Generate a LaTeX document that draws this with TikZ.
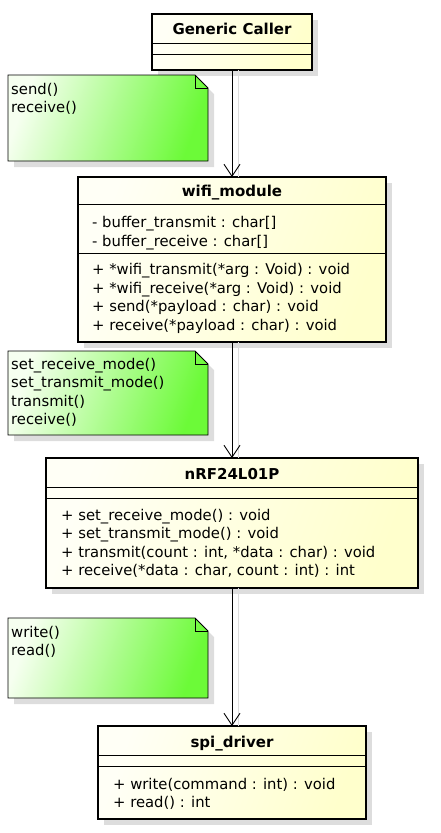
\documentclass[tikz,border=0pt]{standalone}
\usepackage{fontspec}
\setmainfont{DejaVu Sans}
\usetikzlibrary{arrows.meta, positioning, calc, shadows}
\definecolor{myclasslight}{HTML}{FFFFF6}
\definecolor{myclassdark}{HTML}{FFFFCC}
\definecolor{mynotelight}{HTML}{F6FFF0}
\definecolor{mynotedark}{HTML}{6CFA38}
\definecolor{myshadow}{HTML}{DDDDDD}

\tikzset{
  classbox/.style={draw=black, line width=2.5pt, shading=axis, top color=myclasslight,
    bottom color=myclassdark, shading angle=70, anchor=north west, inner sep=0pt, outer sep=0pt,
    drop shadow={shadow xshift=6pt, shadow yshift=-6pt, fill=myshadow, opacity=1}},
  notebox/.style={draw=black, line width=0.8pt, shading=axis, top color=mynotelight,
    bottom color=mynotedark, shading angle=70,
    drop shadow={shadow xshift=6pt, shadow yshift=-6pt, fill=myshadow, opacity=1}},
  classname/.style={font=\fontsize{15}{18}\selectfont\bfseries, inner sep=0pt,
    text height=11pt, text depth=3pt},
  members/.style={font=\fontsize{14.8}{18.4}\selectfont, align=left, inner sep=0pt},
  sepline/.style={line width=0.8pt},
  uses/.style={line width=0.9pt, -{Straight Barb[length=12pt, width=16pt]}},
  wireshadow/.style={draw=myshadow, line width=0.9pt}
}

\begin{document}
\begin{tikzpicture}[x=1pt, y=-1pt]
    \useasboundingbox (0,0) rectangle (440,833);

    % Generic Caller
    \node[classbox, minimum width=160pt, minimum height=56pt] (caller) at (152,14) {};
    \node[classname, below=9.5pt of caller.north] (callername) {Generic Caller};
    \draw[sepline] ([yshift=-29pt]caller.north west) -- ([yshift=-29pt]caller.north east);
    \draw[sepline] ([yshift=-40pt]caller.north west) -- ([yshift=-40pt]caller.north east);

    % note: send / receive
    \path[notebox] (8,75) -- (195,75) -- (208,88) -- (208,161) -- (8,161) -- cycle;
    \draw[line width=0.8pt] (195,75) |- (208,88);
    \node[members, anchor=north west] (note1) at (11,83) {send()\\receive()};

    % wifi_module
    \node[classbox, minimum width=308pt, minimum height=165pt] (wifi) at (78,177) {};
    \node[classname, below=8pt of wifi.north] (wifiname) {wifi\_module};
    \draw[sepline] ([yshift=-27pt]wifi.north west) -- ([yshift=-27pt]wifi.north east);
    \node[members, below right=39.5pt and 14pt of wifi.north west] (wifiattr)
        {- buffer\_transmit : char[]\\- buffer\_receive : char[]};
    \draw[sepline] ([yshift=-76pt]wifi.north west) -- ([yshift=-76pt]wifi.north east);
    \node[members, below right=86.5pt and 14pt of wifi.north west] (wifiops)
        {+ *wifi\_transmit(*arg : Void) : void\\+ *wifi\_receive(*arg : Void) : void\\
         + send(*payload : char) : void\\+ receive(*payload : char) : void};

    % note: radio calls
    \path[notebox] (8,351) -- (195,351) -- (208,364) -- (208,435) -- (8,435) -- cycle;
    \draw[line width=0.8pt] (195,351) |- (208,364);
    \node[members, anchor=north west] (note2) at (11,358)
        {set\_receive\_mode()\\set\_transmit\_mode()\\transmit()\\receive()};

    % nRF24L01P
    \node[classbox, minimum width=372pt, minimum height=130pt] (nrf) at (46,458) {};
    \node[classname, below=10pt of nrf.north] (nrfname) {nRF24L01P};
    \draw[sepline] ([yshift=-29pt]nrf.north west) -- ([yshift=-29pt]nrf.north east);
    \draw[sepline] ([yshift=-40pt]nrf.north west) -- ([yshift=-40pt]nrf.north east);
    \node[members, below right=51pt and 15pt of nrf.north west] (nrfops)
        {+ set\_receive\_mode() : void\\+ set\_transmit\_mode() : void\\
         + transmit(count : int, *data : char) : void\\+ receive(*data : char, count : int) : int};

    % note: bus calls
    \path[notebox] (8,618) -- (195,618) -- (208,631) -- (208,698) -- (8,698) -- cycle;
    \draw[line width=0.8pt] (195,618) |- (208,631);
    \node[members, anchor=north west] (note3) at (11,626) {write()\\read()};

    % spi_driver
    \node[classbox, minimum width=268pt, minimum height=93pt] (spi) at (98,726) {};
    \node[classname, below=10pt of spi.north] (spiname) {spi\_driver};
    \draw[sepline] ([yshift=-29pt]spi.north west) -- ([yshift=-29pt]spi.north east);
    \draw[sepline] ([yshift=-40pt]spi.north west) -- ([yshift=-40pt]spi.north east);
    \node[members, below right=52pt and 15pt of spi.north west] (spiops)
        {+ write(command : int) : void\\+ read() : int};

    % dependencies
    \draw[wireshadow] ([xshift=6pt]caller.south) -- ([xshift=6pt]wifi.north);
    \draw[wireshadow] ([xshift=6pt]wifi.south) -- ([xshift=6pt]nrf.north);
    \draw[wireshadow] ([xshift=6pt]nrf.south) -- ([xshift=6pt]spi.north);
    \draw[uses] (caller) -- (wifi);
    \draw[uses] (wifi) -- (nrf);
    \draw[uses] (nrf) -- (spi);
\end{tikzpicture}
\end{document}
